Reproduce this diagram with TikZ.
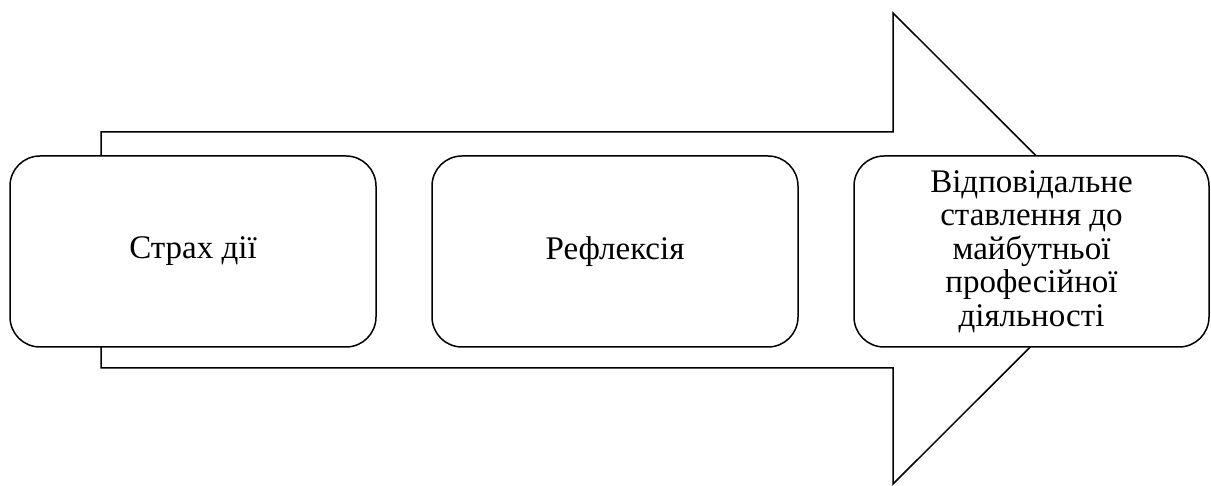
\documentclass[tikz,border=0pt]{standalone}
\usepackage{fontspec}
\setmainfont{Liberation Serif}
\begin{document}
\begin{tikzpicture}[x=1pt,y=-1pt,
  line width=1.5pt,
  stagebox/.style={draw=black, fill=white, rounded corners=30pt, line width=1.5pt,
    minimum width=366pt, minimum height=191pt, inner sep=0pt, align=center,
    font=\fontsize{33}{33.5}\selectfont},
  bigarrow/.style={draw=black, fill=white, line width=1.5pt, line join=miter}]
\useasboundingbox (0,0) rectangle (1211,486);
\coordinate (a1) at (101,132);
\coordinate (a2) at (893,132);
\coordinate (a3) at (893,13);
\coordinate (tip) at (1129,248.5);
\coordinate (a5) at (893,484);
\coordinate (a6) at (893,368);
\coordinate (a7) at (101,368);
\draw[bigarrow] (a1) -- (a2) -- (a3) -- (tip) -- (a5) -- (a6) -- (a7) -- cycle;
\node[stagebox] (b1) at (193,251.5) {Страх дії};
\node[stagebox] (b2) at (615,251.5) {Рефлексія};
\node[stagebox, minimum width=355pt] (b3) at (1031.5,251.5) {Відповідальне\\ставлення до\\майбутньої\\професійної\\діяльності};
\end{tikzpicture}
\end{document}
